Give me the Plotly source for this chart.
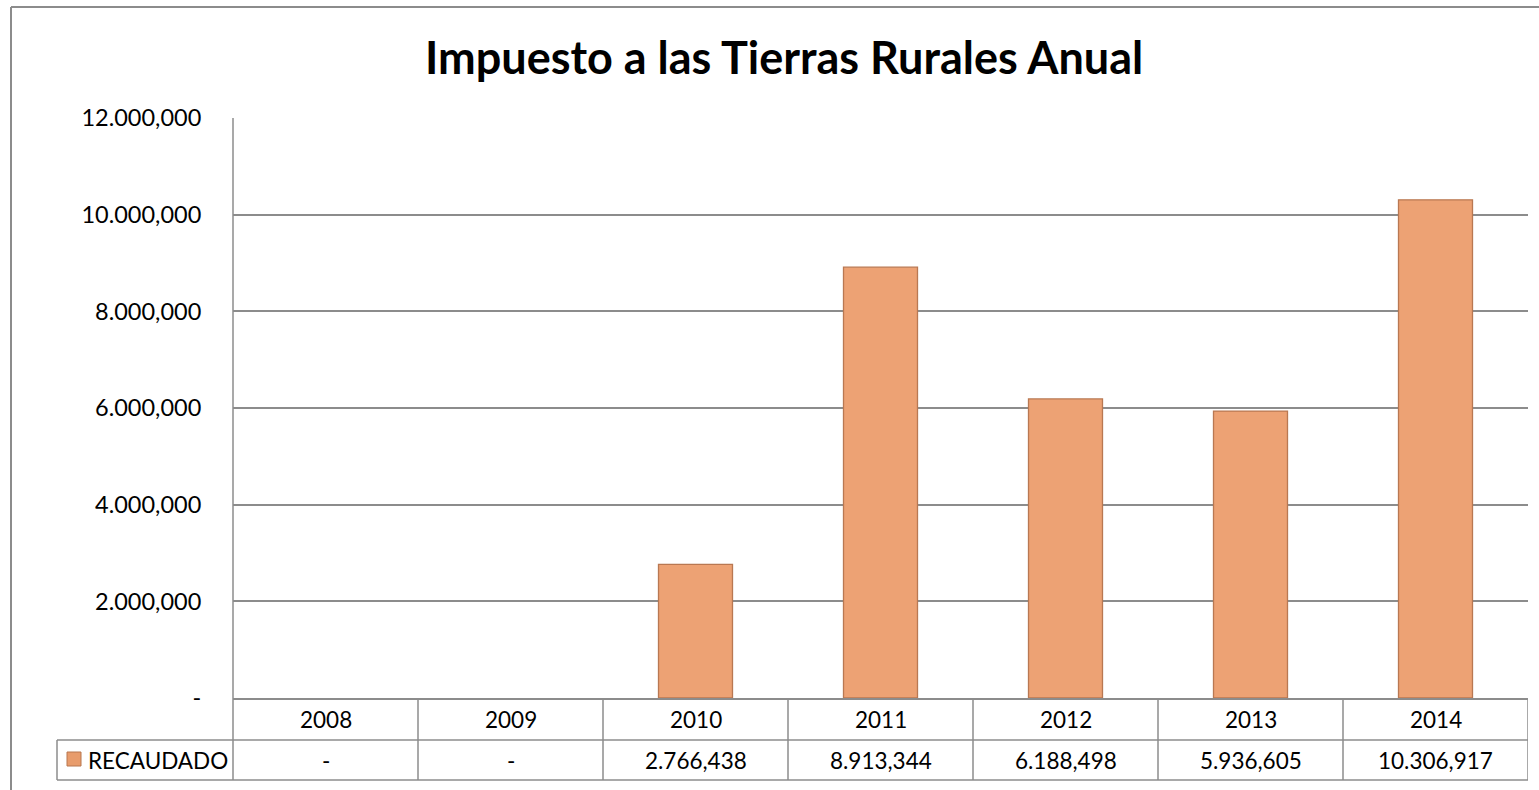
import plotly.graph_objects as go

# ---- data ----
years = ["2008", "2009", "2010", "2011", "2012", "2013", "2014"]
recaudado = [0, 0, 2766438, 8913344, 6188498, 5936605, 10306917]
series_name = "RECAUDADO"
title_text = "Impuesto a las Tierras Rurales Anual"
y_ticks = [0, 2000000, 4000000, 6000000, 8000000, 10000000, 12000000]

W, H = 1539, 790
FONT = "Lato"
GRID = "#8c8c8c"


def fmt(v):
    if v == 0:
        return "-"
    s = "{:,}".format(v)
    parts = s.split(",")
    return ".".join(parts[:-1]) + "," + parts[-1]


def px(x):
    return x / W


def py(y):
    return 1 - y / H


PLOT_L, PLOT_R, PLOT_T, PLOT_B = 233, 1528, 118, 698
ROW1_B, ROW2_B = 740, 780

fig = go.Figure()
fig.add_trace(go.Bar(
    x=years, y=[v if v > 0 else None for v in recaudado], name=series_name, width=0.4,
    marker=dict(color="#EDA274", line=dict(color="#B97852", width=1.3)),
    showlegend=False,
))

shapes = []
line = dict(color=GRID, width=1.5)
# outer chart border
shapes.append(dict(type="line", xref="paper", yref="paper", x0=px(11), x1=1, y0=py(7), y1=py(7), line=dict(color=GRID, width=2)))
shapes.append(dict(type="line", xref="paper", yref="paper", x0=px(11), x1=px(11), y0=py(7), y1=0, line=dict(color=GRID, width=2)))
# left axis line extended through table
shapes.append(dict(type="line", xref="paper", yref="paper", x0=px(PLOT_L), x1=px(PLOT_L), y0=py(PLOT_T), y1=py(ROW2_B), line=line))
# table horizontal lines
shapes.append(dict(type="line", xref="paper", yref="paper", x0=px(57), x1=px(PLOT_R), y0=py(ROW1_B), y1=py(ROW1_B), line=line))
shapes.append(dict(type="line", xref="paper", yref="paper", x0=px(57), x1=px(PLOT_R), y0=py(ROW2_B), y1=py(ROW2_B), line=line))
# legend cell left edge
shapes.append(dict(type="line", xref="paper", yref="paper", x0=px(57), x1=px(57), y0=py(ROW1_B), y1=py(ROW2_B), line=line))
# column separators
for k in range(len(years)):
    shapes.append(dict(type="line", xref="x", yref="paper", x0=k + 0.5, x1=k + 0.5, y0=py(PLOT_B), y1=py(ROW2_B), line=line))
# legend icon
shapes.append(dict(type="rect", xref="paper", yref="paper", x0=px(67), x1=px(81), y0=py(752), y1=py(766),
                   fillcolor="#E89C6C", line=dict(color="#B8764F", width=1)))

annotations = []
annotations.append(dict(text="<b>" + title_text + "</b>", xref="paper", yref="paper", x=px(784), y=py(57),
                        showarrow=False, font=dict(family=FONT, size=45, color="#000"), xanchor="center", yanchor="middle"))
for i, (yr, v) in enumerate(zip(years, recaudado)):
    annotations.append(dict(text=yr, xref="x", yref="paper", x=i, y=py(719), showarrow=False,
                            font=dict(family=FONT, size=22.5, color="#000"), xanchor="center", yanchor="middle"))
    annotations.append(dict(text=fmt(v), xref="x", yref="paper", x=i, y=py(760), showarrow=False,
                            font=dict(family=FONT, size=22.5, color="#000"), xanchor="center", yanchor="middle"))
annotations.append(dict(text=series_name, xref="paper", yref="paper", x=px(86), y=py(760), showarrow=False,
                        font=dict(family=FONT, size=22.5, color="#000"), xanchor="left", yanchor="middle"))

fig.update_layout(
    width=W, height=H, autosize=False,
    margin=dict(l=0, r=0, t=0, b=0, autoexpand=False),
    paper_bgcolor="white", plot_bgcolor="white",
    font=dict(family=FONT, color="#000"),
    xaxis=dict(domain=[px(PLOT_L), px(PLOT_R)], range=[-0.5, 6.5], showticklabels=False, ticks="",
               showgrid=False, showline=True, linecolor=GRID, linewidth=1.5, zeroline=False, fixedrange=True,
               automargin=False),
    yaxis=dict(domain=[py(PLOT_B), py(PLOT_T)], range=[0, 12000000], tickvals=y_ticks,
               ticktext=[fmt(v) for v in y_ticks], tickfont=dict(family=FONT, size=23.5, color="#000"),
               showgrid=True, gridcolor=GRID, gridwidth=1.5, zeroline=False, showline=False,
               ticks="outside", ticklen=26, tickcolor="rgba(0,0,0,0)", fixedrange=True, automargin=False),
    shapes=shapes, annotations=annotations, bargap=0.6,
)

fig.write_html("out.html", config={"displayModeBar": False},
               post_script="document.body.style.margin='0';document.body.style.overflow='hidden';")
